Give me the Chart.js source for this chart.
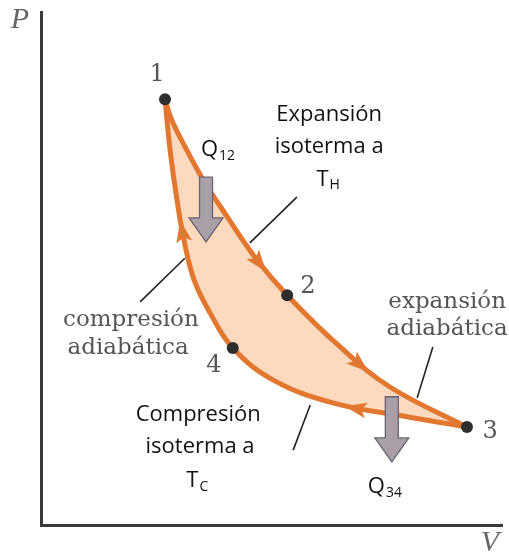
<!DOCTYPE html>
<html>
<head>
<meta charset="utf-8">
<script src="https://cdn.jsdelivr.net/npm/chart.js@4"></script>
<style>
  body { margin: 0; background: #fff; }
  canvas { display: block; }
</style>
</head>
<body>
<canvas id="pvChart" width="509" height="553"></canvas>
<script>
// Carnot cycle on a P-V diagram (arbitrary units)

// upper branch 1 -> 2 -> 3 (isothermal + adiabatic expansion)
const upperV = [2.69, 2.82, 3.08, 3.51, 4.03, 4.64, 5.34, 6.49, 7.57, 9.24];
const upperP = [8.30, 7.93, 7.45, 6.74, 6.02, 5.22, 4.48, 3.47, 2.69, 1.91];

// lower branch 1 <- 4 <- 3 (listed left to right)
const lowerV = [2.69, 2.80, 2.95, 3.10, 3.32, 3.67, 4.16, 5.03, 6.33, 7.94, 9.24];
const lowerP = [8.30, 7.31, 6.34, 5.56, 4.78, 4.13, 3.45, 2.83, 2.38, 2.11, 1.91];

// state points
const stateNames = ['1', '2', '3', '4'];
const stateV = [2.69, 5.34, 9.24, 4.16];
const stateP = [8.30, 4.48, 1.91, 3.45];

const orange = '#e2772f';
const peach = '#fdd9bd';

const toXY = (vs, ps) => vs.map((v, i) => ({ x: v, y: ps[i] }));

// arrow heads along the curves: dataset index, segment, fraction, reverse?
const flowMarks = [
  { ds: 1, seg: 5, t: 0.15, rev: false },
  { ds: 1, seg: 7, t: 0.42, rev: false },
  { ds: 2, seg: 2, t: 0.78, rev: true },
  { ds: 2, seg: 8, t: 0.28, rev: true }
];

// heat arrows (V, top P, tip P)
const heatArrows = [
  { v: 3.58, top: 6.78, tip: 5.52 },
  { v: 7.61, top: 2.50, tip: 1.23 }
];

// leader lines
const leaders = [
  [2.15, 4.35, 3.12, 5.20],
  [5.55, 6.39, 4.53, 5.50],
  [8.50, 3.47, 8.16, 2.48],
  [5.84, 2.34, 5.47, 1.46]
];

const sans = '22px "Open Sans"';
const serif = '23px "DejaVu Serif"';

// text labels: [text, subscript, V, P, font, colour]
const labels = [
  ['Expansión', '', 6.25, 7.99, sans, '#111'],
  ['isoterma a', '', 6.25, 7.37, sans, '#111'],
  ['T', 'H', 6.23, 6.74, sans, '#111'],
  ['Q', '12', 3.84, 7.31, sans, '#111'],
  ['compresión', '', 1.95, 4.00, serif, '#555'],
  ['adiabática', '', 1.89, 3.45, serif, '#555'],
  ['expansión', '', 8.81, 4.35, serif, '#555'],
  ['adiabática', '', 8.81, 3.82, serif, '#555'],
  ['Compresión', '', 3.41, 2.14, sans, '#111'],
  ['isoterma a', '', 3.45, 1.52, sans, '#111'],
  ['T', 'C', 3.39, 0.86, sans, '#111'],
  ['Q', '34', 7.46, 0.74, sans, '#111'],
  ['P', '', -0.46, 9.84, 'italic 30px "Liberation Serif"', '#666'],
  ['V', '', 9.74, -0.35, 'italic 30px "Liberation Serif"', '#666']
];

// state number positions
const numV = [2.52, 5.79, 9.74, 3.75];
const numP = [8.77, 4.64, 1.81, 3.10];

// point and tangent on the drawn bezier between two line points
function onCurve(a, b, t) {
  const p0 = [a.x, a.y], p3 = [b.x, b.y];
  const p1 = a.cp2x !== undefined ? [a.cp2x, a.cp2y] : p0;
  const p2 = b.cp1x !== undefined ? [b.cp1x, b.cp1y] : p3;
  const u = 1 - t;
  const pos = [0, 1].map(k => u*u*u*p0[k] + 3*u*u*t*p1[k] + 3*u*t*t*p2[k] + t*t*t*p3[k]);
  const der = [0, 1].map(k => 3*u*u*(p1[k]-p0[k]) + 6*u*t*(p2[k]-p1[k]) + 3*t*t*(p3[k]-p2[k]));
  return { x: pos[0], y: pos[1], ang: Math.atan2(der[1], der[0]) };
}

const decor = {
  id: 'decor',
  afterDatasetsDraw(chart) {
    const ctx = chart.ctx;
    const xs = chart.scales.x, ys = chart.scales.y;
    const px = v => xs.getPixelForValue(v);
    const py = p => ys.getPixelForValue(p);

    // flow arrow heads
    flowMarks.forEach(m => {
      const pts = chart.getDatasetMeta(m.ds).data;
      const c = onCurve(pts[m.seg], pts[m.seg + 1], m.t);
      const ang = c.ang + (m.rev ? Math.PI : 0);
      ctx.save();
      ctx.translate(c.x, c.y);
      ctx.rotate(ang);
      ctx.beginPath();
      ctx.moveTo(10, 0);
      ctx.lineTo(-12, -8);
      ctx.lineTo(-7, 0);
      ctx.lineTo(-12, 8);
      ctx.closePath();
      ctx.fillStyle = orange;
      ctx.fill();
      ctx.restore();
    });

    // leader lines
    ctx.save();
    ctx.strokeStyle = '#222';
    ctx.lineWidth = 1.6;
    leaders.forEach(l => {
      ctx.beginPath();
      ctx.moveTo(px(l[0]), py(l[1]));
      ctx.lineTo(px(l[2]), py(l[3]));
      ctx.stroke();
    });
    ctx.restore();

    // heat arrows
    heatArrows.forEach(h => {
      const cx = px(h.v), top = py(h.top), tip = py(h.tip);
      const headTop = tip - 24;
      ctx.save();
      ctx.beginPath();
      ctx.moveTo(cx - 6.5, top);
      ctx.lineTo(cx + 6.5, top);
      ctx.lineTo(cx + 6.5, headTop);
      ctx.lineTo(cx + 17, headTop);
      ctx.lineTo(cx, tip);
      ctx.lineTo(cx - 17, headTop);
      ctx.lineTo(cx - 6.5, headTop);
      ctx.closePath();
      ctx.fillStyle = '#a89fa8';
      ctx.fill();
      ctx.strokeStyle = '#6b6470';
      ctx.lineWidth = 1.3;
      ctx.stroke();
      ctx.restore();
    });

    // labels
    ctx.save();
    ctx.textBaseline = 'middle';
    labels.forEach(([txt, sub, v, p, font, col]) => {
      ctx.font = font;
      const w1 = ctx.measureText(txt).width;
      let w2 = 0;
      const subFont = '14px "Open Sans"';
      if (sub) { ctx.font = subFont; w2 = ctx.measureText(sub).width + 1; }
      const x0 = px(v) - (w1 + w2) / 2, y0 = py(p);
      ctx.fillStyle = col;
      ctx.textAlign = 'left';
      ctx.font = font;
      ctx.fillText(txt, x0, y0);
      if (sub) {
        ctx.font = subFont;
        ctx.fillText(sub, x0 + w1 + 1, y0 + 6);
      }
    });
    ctx.font = '24px "DejaVu Serif"';
    ctx.fillStyle = '#555';
    ctx.textAlign = 'center';
    stateNames.forEach((n, i) => ctx.fillText(n, px(numV[i]), py(numP[i])));
    ctx.restore();
  }
};

new Chart(document.getElementById('pvChart'), {
  type: 'scatter',
  data: {
    datasets: [
      {
        label: 'estados',
        data: toXY(stateV, stateP),
        pointRadius: 6,
        pointHoverRadius: 6,
        pointBackgroundColor: '#2e2e2e',
        pointBorderWidth: 0,
        showLine: false
      },
      {
        label: '1-2-3',
        data: toXY(upperV, upperP),
        showLine: true,
        borderColor: orange,
        borderWidth: 5,
        pointRadius: 0,
        tension: 0.4,
        backgroundColor: peach,
        fill: '+1'
      },
      {
        label: '3-4-1',
        data: toXY(lowerV, lowerP),
        showLine: true,
        borderColor: orange,
        borderWidth: 5,
        pointRadius: 0,
        tension: 0.4,
        fill: false
      }
    ]
  },
  options: {
    responsive: false,
    animation: false,
    devicePixelRatio: 1,
    layout: { padding: { left: 41, top: 12, right: 7, bottom: 28 } },
    plugins: {
      legend: { display: false },
      tooltip: { enabled: false },
      filler: { drawTime: 'beforeDatasetsDraw' }
    },
    scales: {
      x: {
        type: 'linear', min: 0, max: 10,
        grid: { display: false, drawTicks: false },
        ticks: { display: false },
        border: { color: '#3a3a3a', width: 3 }
      },
      y: {
        type: 'linear', min: 0, max: 10,
        grid: { display: false, drawTicks: false },
        ticks: { display: false },
        border: { color: '#3a3a3a', width: 3 }
      }
    }
  },
  plugins: [decor]
});
</script>
</body>
</html>
